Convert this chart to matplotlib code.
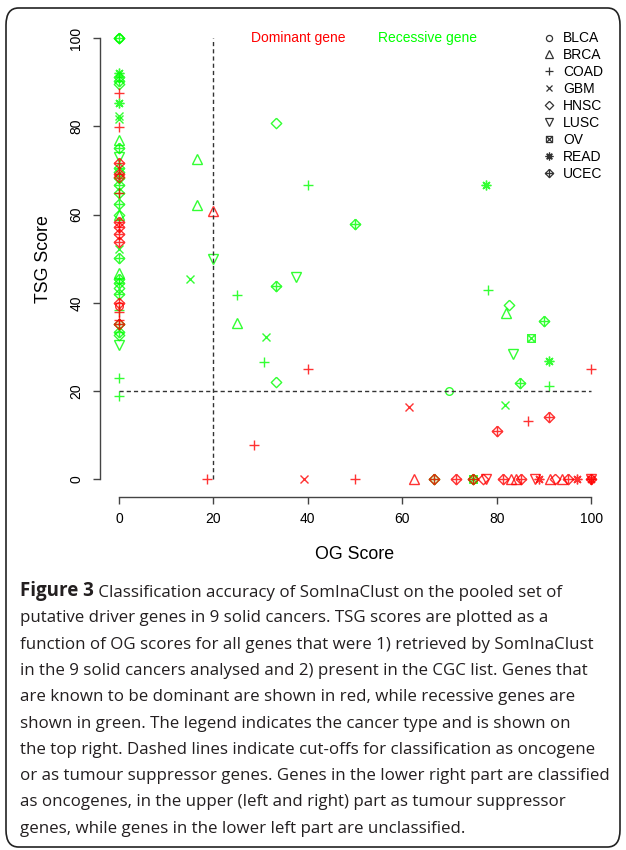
import numpy as np
import matplotlib
matplotlib.use("Agg")
import matplotlib.pyplot as plt
from matplotlib.path import Path
from matplotlib.lines import Line2D
from matplotlib.patches import FancyBboxPatch

# recessive genes (green)
rec_og = [0, 0, 0, 0, 0, 0, 0, 0, 0, 0, 0, 0, 0, 0, 0, 0, 0, 0, 0, 0, 0, 0, 0, 0, 0, 0, 0, 0, 0, 0, 0, 0, 0, 0, 0,
          33.3, 16.6, 40, 16.6, 50, 20, 15, 37.4, 33.3, 25, 25, 31.1, 30.7, 33.3, 77.8, 78.2,
          82.6, 82.0, 90.0, 87.3, 83.5, 91.0, 85.0, 91.1, 70.0, 81.7, 66.7, 75, 75]
rec_tsg = [100, 100, 100, 92.1, 91.2, 90.3, 89.6, 85.3, 82.3, 81.6, 76.9, 75.0, 73.0, 70.5, 69.7, 68.2, 66.7,
           64.8, 62.5, 60.0, 60.0, 52.2, 50.1, 46.7, 45.5, 44.4, 43.3, 42.1, 38.4, 35.2, 33.4, 32.7, 30.4, 22.9, 18.9,
           80.7, 72.5, 66.6, 62.2, 57.8, 49.9, 45.3, 45.9, 43.9, 41.7, 35.5, 32.2, 26.6, 22.0, 66.7, 42.9,
           39.5, 37.6, 35.9, 32.1, 28.5, 26.8, 21.8, 21.1, 20.0, 16.9, 0, 0, 0]
rec_cancer = ['UCEC', 'HNSC', 'BLCA', 'READ', 'UCEC', 'UCEC', 'HNSC', 'READ', 'GBM', 'GBM', 'BRCA', 'UCEC', 'LUSC',
              'UCEC', 'HNSC', 'UCEC', 'UCEC', 'UCEC', 'UCEC', 'BRCA', 'HNSC', 'GBM', 'UCEC', 'BRCA', 'UCEC', 'UCEC',
              'HNSC', 'UCEC', 'COAD', 'UCEC', 'UCEC', 'HNSC', 'LUSC', 'COAD', 'COAD',
              'HNSC', 'BRCA', 'COAD', 'BRCA', 'UCEC', 'LUSC', 'GBM', 'LUSC', 'UCEC', 'COAD', 'BRCA', 'GBM', 'COAD',
              'HNSC', 'READ', 'COAD',
              'HNSC', 'BRCA', 'UCEC', 'OV', 'LUSC', 'READ', 'UCEC', 'COAD', 'BLCA', 'GBM', 'UCEC', 'OV', 'UCEC']

# dominant genes (red)
dom_og = [0, 0, 0, 0, 0, 0, 0, 0, 0, 0, 0, 0, 0, 0, 0,
          20, 40, 100, 61.5, 86.7, 91, 80, 28.6, 18.6, 39.2, 50, 62.5, 66.7, 71.4, 75, 77.2, 77.8, 81.3, 83.0,
          84.0, 85.2, 88.2, 89.0, 91.2, 92.4, 93.8, 95.0, 97.0, 100, 100, 100]
dom_tsg = [87.6, 79.8, 71.6, 69.3, 68.6, 64.8, 58.4, 57.2, 55.5, 53.8, 40.0, 39.3, 38.0, 36.1, 35.2,
           60.8, 24.9, 24.9, 16.5, 13.3, 14.2, 11, 7.7, 0, 0, 0, 0, 0, 0, 0, 0, 0, 0, 0,
           0, 0, 0, 0, 0, 0, 0, 0, 0, 0, 0, 0]
dom_cancer = ['COAD', 'COAD', 'UCEC', 'UCEC', 'HNSC', 'COAD', 'UCEC', 'UCEC', 'UCEC', 'UCEC', 'UCEC', 'BLCA',
              'COAD', 'COAD', 'UCEC',
              'BRCA', 'COAD', 'COAD', 'GBM', 'COAD', 'UCEC', 'UCEC', 'COAD', 'COAD', 'GBM', 'COAD', 'BRCA', 'UCEC',
              'UCEC', 'UCEC', 'HNSC', 'LUSC', 'UCEC', 'BRCA', 'BRCA', 'UCEC', 'LUSC', 'READ', 'BRCA', 'HNSC',
              'BRCA', 'UCEC', 'READ', 'UCEC', 'LUSC', 'READ']

cancers = ['BLCA', 'BRCA', 'COAD', 'GBM', 'HNSC', 'LUSC', 'OV', 'READ', 'UCEC']
og_cut = 20
tsg_cut = 20

caption = [
    "Classification accuracy of SomInaClust on the pooled set of",
    "putative driver genes in 9 solid cancers. TSG scores are plotted as a",
    "function of OG scores for all genes that were 1) retrieved by SomInaClust",
    "in the 9 solid cancers analysed and 2) present in the CGC list. Genes that",
    "are known to be dominant are shown in red, while recessive genes are",
    "shown in green. The legend indicates the cancer type and is shown on",
    "the top right. Dashed lines indicate cut-offs for classification as oncogene",
    "or as tumour suppressor genes. Genes in the lower right part are classified",
    "as oncogenes, in the upper (left and right) part as tumour suppressor",
    "genes, while genes in the lower left part are unclassified.",
]

# R style pch markers
diamond_plus = Path([(0, 1), (1, 0), (0, -1), (-1, 0), (0, 1), (-1, 0), (1, 0), (0, -1), (0, 1)],
                    [1, 2, 2, 2, 2, 1, 2, 1, 2])
box_x = Path([(-1, -1), (1, -1), (1, 1), (-1, 1), (-1, -1), (-1, -1), (1, 1), (-1, 1), (1, -1)],
             [1, 2, 2, 2, 2, 1, 2, 1, 2])
diamond = Path([(0, 1), (1, 0), (0, -1), (-1, 0), (0, 1)], [1, 2, 2, 2, 2])
marker_map = {'BLCA': ('o', 5.5), 'BRCA': ('^', 7), 'COAD': ('+', 7.5), 'GBM': ('x', 5.5),
              'HNSC': (diamond, 7.5), 'LUSC': ('v', 7), 'OV': (box_x, 5.5), 'READ': ((8, 2, 0), 7),
              'UCEC': (diamond_plus, 7.5)}

plt.rcParams['font.family'] = ['Liberation Sans', 'DejaVu Sans']

fig = plt.figure(figsize=(6.26, 8.5), dpi=100)
ax = fig.add_axes([100 / 626, 1 - 497 / 850, 510 / 626, 476.6 / 850])

for og, tsg, cn, col in [(rec_og, rec_tsg, rec_cancer, '#00ff00'), (dom_og, dom_tsg, dom_cancer, '#ff0000')]:
    og = np.array(og)
    tsg = np.array(tsg)
    cn = np.array(cn)
    for c in cancers:
        m, s = marker_map[c]
        sel = cn == c
        if sel.any():
            ax.plot(og[sel], tsg[sel], linestyle='none', marker=m, markersize=s, markerfacecolor='none',
                    markeredgecolor=col, markeredgewidth=1, alpha=0.8)

ax.plot([og_cut, og_cut], [0, 100], color='#333333', lw=1, dashes=(3, 2.2))
ax.plot([0, 100], [tsg_cut, tsg_cut], color='#333333', lw=1, dashes=(3, 2.2))

ax.text(38, 100, 'Dominant gene', color='#ff0000', fontsize=10, ha='center', va='center')
ax.text(65.3, 100, 'Recessive gene', color='#00ff00', fontsize=10, ha='center', va='center')

handles = [Line2D([], [], linestyle='none', marker=marker_map[c][0], markersize=marker_map[c][1] * 0.8,
                  markerfacecolor='none', markeredgecolor='#333333', markeredgewidth=0.9) for c in cancers]
ax.legend(handles, cancers, loc='upper left', bbox_to_anchor=(0.867, 0.977), frameon=False, fontsize=10,
          handlelength=1, handletextpad=0.5, labelspacing=0.215, borderpad=0, borderaxespad=0)

ax.set_xlim(-4, 104)
ax.set_ylim(-4, 104)
ax.set_xticks([0, 20, 40, 60, 80, 100])
ax.set_yticks([0, 20, 40, 60, 80, 100])
ax.spines['top'].set_visible(False)
ax.spines['right'].set_visible(False)
for sp in ['left', 'bottom']:
    ax.spines[sp].set_bounds(0, 100)
    ax.spines[sp].set_color('#444444')
    ax.spines[sp].set_linewidth(1)
ax.tick_params(axis='both', direction='out', length=5, width=1, color='#444444', labelsize=10)
ax.tick_params(axis='x', pad=5.5)
ax.tick_params(axis='y', pad=7, labelrotation=90)
for lab in ax.get_yticklabels():
    lab.set_va('center')
ax.set_xlabel('OG Score', fontsize=12.8, labelpad=15)
ax.set_ylabel('TSG Score', fontsize=12.8, labelpad=12.5)

# caption box
fig.patches.append(FancyBboxPatch((6 / 626, 3 / 850), 614 / 626, 839 / 850,
                                  boxstyle='round,pad=0,rounding_size=0.02', transform=fig.transFigure,
                                  fill=False, edgecolor='#222222', lw=1.2))

base = 596
pitch = 26.3
t1 = fig.text(20 / 626, 1 - base / 850, 'Figure 3', fontsize=13.5, fontweight='bold', family='Open Sans',
              color='#231f20', va='baseline')
ax.annotate(' ' + caption[0], xy=(1, 0), xycoords=t1, fontsize=12.15, family='Open Sans', color='#231f20',
            va='bottom', ha='left', annotation_clip=False)
for i, line in enumerate(caption[1:], start=1):
    fig.text(20 / 626, 1 - (base + i * pitch) / 850, line, fontsize=12.15, family='Open Sans', color='#231f20',
             va='baseline')

fig.savefig('out.png', dpi=100)
